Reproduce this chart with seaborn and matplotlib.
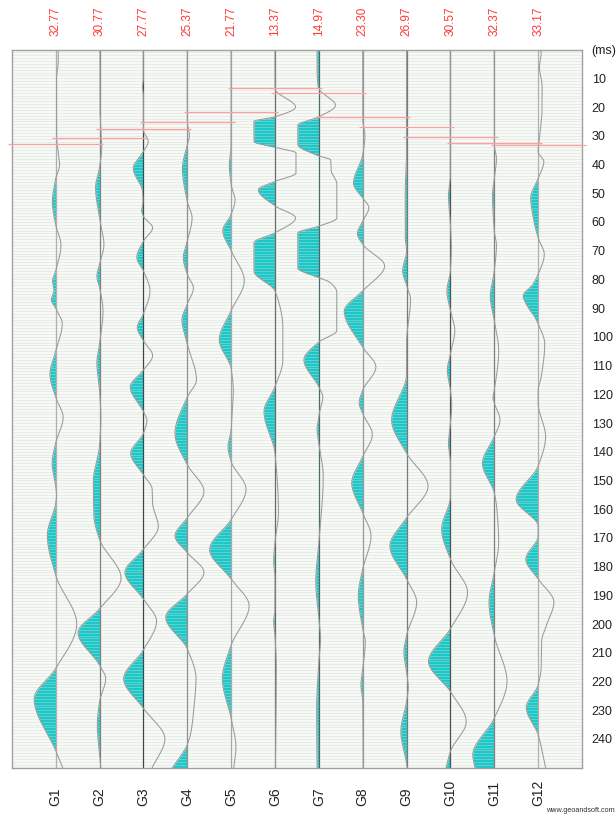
import numpy as np
import matplotlib
matplotlib.use("Agg")
import matplotlib.pyplot as plt
import matplotlib.transforms as mtransforms
from matplotlib import font_manager
import seaborn as sns

# ---------------- data ----------------
trace_labels = ["G1", "G2", "G3", "G4", "G5", "G6", "G7", "G8", "G9", "G10", "G11", "G12"]
pick_times = [32.77, 30.77, 27.77, 25.37, 21.77, 13.37, 14.97, 23.30, 26.97, 30.57, 32.37, 33.17]
time_ticks = [10, 20, 30, 40, 50, 60, 70, 80, 90, 100, 110, 120, 130, 140, 150, 160,
              170, 180, 190, 200, 210, 220, 230, 240]

# amplitude keypoints per trace: time (ms) and amplitude (in trace spacings)
t_G1 = [0, 4, 10, 30, 36, 40, 45, 53, 61, 68, 77, 80.5, 84, 87, 90, 95.5, 105, 113, 121, 128,
        137, 144, 152, 155, 158, 169, 183, 200, 215.5, 226, 244, 250]
a_G1 = [0.06, 0.06, 0.02, 0.02, 0.06, 0.09, 0, -0.075, 0, 0.12, 0, -0.07, -0.04, -0.1, 0, 0.15,
        0, -0.13, 0, 0.17, 0, -0.08, 0, 0.02, 0, -0.19, 0, 0.48, 0, -0.49, 0, 0.16]

t_G2 = [0, 20, 34, 41, 48, 58.6, 68, 74.7, 79, 82.8, 91, 102.4, 109, 118.6, 128, 138, 150, 162,
        170.5, 184, 194.7, 203, 214.3, 219, 227, 235, 245.5, 250]
a_G2 = [0.01, 0.01, 0.05, 0, -0.09, 0, 0.1, 0, -0.06, 0, 0.08, 0, -0.06, 0, 0.03, 0, -0.14,
        -0.13, 0, 0.49, 0, -0.49, 0, 0.14, 0, -0.05, 0, 0.03]

t_G3 = [0, 10, 13, 16, 28, 32, 35.5, 41.3, 49.4, 53, 56, 58, 62, 66.7, 72.4, 77, 84, 92, 96.7,
        101.3, 106.5, 111.6, 117.4, 126, 129, 133.6, 140.5, 148, 153, 158, 166, 174, 182,
        191.3, 199, 209, 219, 229.3, 240, 250]
a_G3 = [0, 0, -0.02, 0, 0, 0.11, 0, -0.23, -0.02, -0.01, -0.04, 0, 0.21, 0, -0.15, 0, 0.15, 0,
        -0.14, 0, 0.21, 0, -0.3, 0, 0.08, 0, -0.29, 0, 0.2, 0.21, 0.34, 0, -0.42, 0, 0.3, 0,
        -0.45, 0, 0.49, 0.2]

t_G4 = [0, 25, 30, 33.2, 41.3, 52.8, 58.6, 66.7, 72.4, 78.2, 83, 88.6, 94, 102.4, 115, 121,
        133.6, 144.5, 153.8, 163, 169.3, 175.1, 182, 189.5, 197.6, 208.6, 219, 228, 238, 242, 250]
a_G4 = [0, 0, 0.05, 0, -0.11, 0, 0.11, 0, -0.09, 0, 0.14, 0, -0.12, 0, 0.21, 0, -0.28, 0, 0.38,
        0, -0.28, 0, 0.38, 0, -0.49, 0, 0.2, 0.16, 0.08, 0, -0.34]

t_G5 = [0, 33.2, 40, 47, 52.3, 57.4, 63, 70, 80.5, 90.9, 101, 111, 118.6, 125, 132.4, 138.2,
        143.4, 153, 163.6, 174, 184.3, 193.6, 207.4, 219, 232.8, 243, 250]
a_G5 = [0, 0, -0.04, 0, 0.09, 0, -0.19, 0, 0.3, 0, -0.27, 0, 0.05, 0.03, 0, -0.07, 0, 0.34, 0,
        -0.49, 0, 0.41, 0, -0.2, 0, 0.11, 0.06]

t_G6 = [0, 13.6, 20, 23.4, 25, 32, 34, 36, 43, 45.9, 48.8, 54.4, 58.6, 63.8, 67.2, 77, 84, 97,
        108, 117.4, 126, 140.5, 161, 171.6, 178, 184, 195, 199, 204, 215, 250]
a_G6 = [0, 0, 0.47, 0, -0.48, -0.48, 0, 0.48, 0.48, 0, -0.38, 0, 0.47, 0, -0.48, -0.48, 0, 0.18,
        0.18, 0, -0.25, 0, 0.08, 0, -0.03, 0, 0, -0.03, 0, 0.03, 0.01]

t_G7 = [0, 6, 12.5, 13.6, 19.4, 23.4, 26.3, 33, 37, 38.4, 42, 46.7, 58.6, 61.5, 63.8, 76, 79.4,
        81, 84.5, 97.8, 101.8, 108, 117.4, 121, 126, 128, 132, 137, 148.6, 171.6, 185, 198,
        205, 213, 230, 250]
a_G7 = [-0.04, -0.04, -0.02, 0, 0.38, 0, -0.48, -0.48, 0, 0.27, 0.28, 0.41, 0.41, 0, -0.48,
        -0.48, 0, 0.25, 0.41, 0.41, 0, -0.34, 0, 0.09, 0.02, 0, -0.04, 0, 0.1, 0, -0.07, 0,
        0.04, 0, -0.05, -0.04]

t_G8 = [0, 24, 30, 36.6, 46.5, 51.7, 55, 59.7, 64, 67.8, 75.3, 84, 91, 103.6, 110.5, 118.6, 123,
        126.7, 134, 141.7, 150.9, 161.3, 169.3, 180.9, 190, 201.6, 206, 215.5, 221, 227, 250]
a_G8 = [0, 0, 0.05, 0, -0.21, 0, 0.14, 0, -0.12, 0, 0.5, 0, -0.42, 0, 0.3, 0, -0.08, 0, 0.22, 0,
        -0.25, 0, 0.19, 0, -0.1, 0, 0.06, 0, -0.04, 0, 0.01]

t_G9 = [0, 35, 50, 65, 70, 77, 82, 87, 102, 108, 113, 129, 140.5, 152, 163, 172.8, 184.3, 192.4,
        204, 209.7, 216.6, 222, 227, 237.4, 248.6, 250]
a_G9 = [0, 0, -0.03, -0.03, 0, -0.09, 0, 0.09, 0, 0, 0, -0.34, 0, 0.49, 0, -0.38, 0, 0.23, 0,
        -0.06, 0, 0.04, 0, -0.13, 0, 0.01]

t_G10 = [0, 43.6, 50.5, 60.9, 69, 77, 84, 90.9, 97.8, 105.9, 111.6, 118.6, 124, 130, 137, 144,
         155.5, 167, 177.4, 189, 201.6, 213, 223.5, 234, 244.3, 250]
a_G10 = [0, 0, -0.045, 0, 0.02, 0, -0.08, 0, 0.1, 0, -0.07, 0, 0.03, 0, -0.045, 0, 0, -0.2, 0,
         0.39, 0, -0.5, 0, 0.36, 0, -0.1]

t_G11 = [0, 33, 38, 44.8, 50.5, 63.2, 68, 77, 86, 94.3, 104.7, 118.6, 121, 123, 129, 134.7, 144,
         154.3, 160, 171.6, 182, 192.4, 204, 220, 232.8, 245.5, 250]
a_G11 = [0, 0, 0.05, 0, -0.04, 0, 0.05, 0, -0.09, 0, 0.1, 0, -0.03, 0, 0.13, 0, -0.27, 0, 0.06,
         0.1, 0, -0.12, 0, 0.29, 0, -0.49, -0.44]

t_G12 = [0, 1, 6, 13, 20, 31, 35.5, 39, 44.8, 51.7, 58.6, 65.5, 71.3, 78.2, 81.7, 85.7, 89.7, 93,
         95.5, 102.4, 114, 118.6, 123, 134.7, 145, 156.6, 166, 169.3, 177.4, 184.3, 192.4, 200,
         206, 215, 221.2, 229, 238.5, 250]
a_G12 = [0.05, 0.07, 0.03, 0.09, 0.09, 0.03, 0, 0.13, 0, -0.17, -0.11, 0, 0.14, 0, -0.12, -0.34,
         -0.23, -0.08, 0, 0.15, 0.07, 0, 0, 0.17, 0, -0.5, 0, 0, -0.28, 0, 0.36, 0.2, 0.08, 0.07,
         0, -0.27, 0, 0.17]

trace_times = [t_G1, t_G2, t_G3, t_G4, t_G5, t_G6, t_G7, t_G8, t_G9, t_G10, t_G11, t_G12]
trace_amps = [a_G1, a_G2, a_G3, a_G4, a_G5, a_G6, a_G7, a_G8, a_G9, a_G10, a_G11, a_G12]

# ---------------- styles ----------------
FILL = "#19c8c8"
WIGGLE = "#9a9a9a"
BASE_COLORS = ["#b0b0b0", "#808080", "#3a4a4a", "#909090", "#a8a8a8", "#6a6a6a",
               "#4f6a6a", "#989898", "#7a7a7a", "#505050", "#808080", "#b0b0b0"]
PICK_LINE = "#ffa0a0"
PICK_TEXT = "#ff3838"

_names = {f.name for f in font_manager.fontManager.ttflist}
NARROW = "Liberation Sans Narrow" if "Liberation Sans Narrow" in _names else "Liberation Sans"
PICK_SIZE = 9.3 if NARROW == "Liberation Sans Narrow" else 8.5


def smooth_curve(tk, ak, tn):
    """Monotone cubic (PCHIP) rendering of the read keypoints."""
    x = np.asarray(tk, float)
    y = np.asarray(ak, float)
    h = np.diff(x)
    d = np.diff(y) / h
    m = np.zeros_like(y)
    m[0], m[-1] = d[0], d[-1]
    for k in range(1, len(x) - 1):
        if d[k - 1] * d[k] <= 0:
            m[k] = 0.0
        else:
            w1 = 2 * h[k] + h[k - 1]
            w2 = h[k] + 2 * h[k - 1]
            m[k] = (w1 + w2) / (w1 / d[k - 1] + w2 / d[k])
    idx = np.clip(np.searchsorted(x, tn) - 1, 0, len(x) - 2)
    hk = h[idx]
    s = (tn - x[idx]) / hk
    h00 = 2 * s**3 - 3 * s**2 + 1
    h10 = s**3 - 2 * s**2 + s
    h01 = -2 * s**3 + 3 * s**2
    h11 = s**3 - s**2
    return h00 * y[idx] + h10 * hk * m[idx] + h01 * y[idx + 1] + h11 * hk * m[idx + 1]


sns.set_style("white")
plt.rcParams["font.family"] = ["Liberation Sans", "DejaVu Sans"]

W, H = 616, 816
fig = plt.figure(figsize=(W / 100, H / 100), dpi=100)
fig.patch.set_facecolor("white")
ax_left, ax_right, ax_top, ax_bot = 11.8, 582.0, 49.6, 767.7
ax = fig.add_axes([ax_left / W, 1 - ax_bot / H, (ax_right - ax_left) / W, (ax_bot - ax_top) / H])
ax.set_facecolor("#f6f9f6")

TMAX = 250
tn = np.linspace(0, TMAX, 2501)

for i, (tk, ak) in enumerate(zip(trace_times, trace_amps)):
    pos = i + 1
    amp = smooth_curve(tk, ak, tn)
    ax.fill_betweenx(tn, pos, pos + np.minimum(amp, 0), color=FILL, lw=0, zorder=1)
    ax.axvline(pos, color=BASE_COLORS[i], lw=0.9, zorder=2.5)
    sns.lineplot(x=pos + amp, y=tn, orient="y", sort=False, estimator=None,
                 color=WIGGLE, linewidth=0.75, ax=ax, zorder=3)

# fine horizontal striping of the background
ax.hlines(np.arange(0, TMAX + 1, 1), 0, 13, colors="#d3dad3", lw=0.6, alpha=0.5, zorder=2)

# first-break picks
for i, p in enumerate(pick_times):
    pos = i + 1
    ax.hlines(p, pos - 1.08, pos + 1.08, colors=PICK_LINE, lw=0.9, zorder=5, clip_on=False)

ax.set_xlim(0, 13)
ax.set_ylim(TMAX, 0)

# right-hand time axis
ax.yaxis.tick_right()
ax.set_yticks([0] + time_ticks)
ax.set_yticklabels(["(ms)"] + [str(v) for v in time_ticks])
ax.tick_params(axis="y", length=0, pad=7, labelsize=9, labelcolor="#222222")
ax.set_xticks([])
ax.set_xlabel("")
ax.set_ylabel("")
for sp in ax.spines.values():
    sp.set_color("#a0a0a0")
    sp.set_linewidth(1.0)

trans = mtransforms.blended_transform_factory(ax.transData, fig.transFigure)
for i, (lab, p) in enumerate(zip(trace_labels, pick_times)):
    pos = i + 1
    ax.text(pos, 1 - 36 / H, f"{p:.2f}", transform=trans, rotation=90, ha="center",
            va="bottom", color=PICK_TEXT, fontsize=PICK_SIZE, family=[NARROW, "DejaVu Sans"])
    ax.text(pos, 1 - 806 / H, lab, transform=trans, rotation=90, ha="center",
            va="bottom", color="#222222", fontsize=10)

fig.text(615 / W, 1 - 810 / H, "www.geoandsoft.com", ha="right", va="center",
         fontsize=5.2, color="#333333")

fig.savefig("out.png", dpi=100, facecolor="white")
